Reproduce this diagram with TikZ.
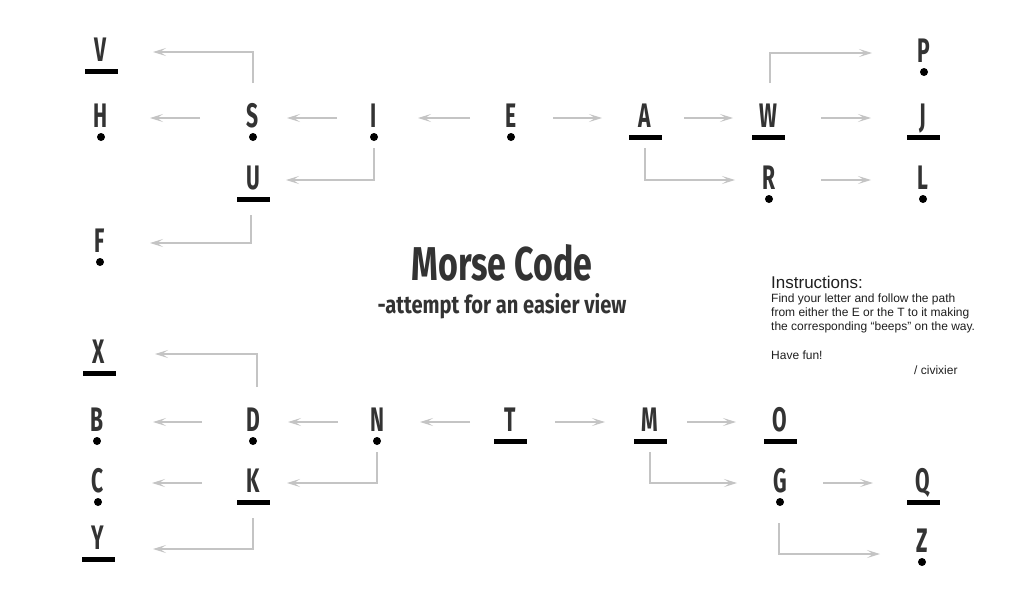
\documentclass[tikz,border=0pt]{standalone}
\usepackage{fontspec}
\usetikzlibrary{arrows.meta,calc}
\setmainfont{Liberation Sans}
\newfontfamily\condfont[FakeStretch=0.62]{Fira Sans}
\definecolor{ink}{HTML}{333333}
\definecolor{wire}{HTML}{C4C4C4}
\tikzset{
  lt/.style={inner sep=0pt, text height=20pt, text depth=2pt, text=ink,
    font=\condfont\bfseries\fontsize{34}{34}\selectfont},
  arr/.style={draw=wire, line width=1.4pt,
    -{Stealth[length=13pt,width=8pt,inset=6pt]}},
  ins/.style={inner sep=0pt, anchor=base west, text=black!88,
    font=\fontsize{12}{14}\selectfont},
}
\newcommand{\dotm}[1]{\fill[black] ($(#1.center)+(0,19)$) circle (4pt);}
\newcommand{\barm}[1]{\fill[black] ($(#1.center)+(-16.5,17)$) rectangle ++(33,5);}
\begin{document}
\begin{tikzpicture}[x=1pt,y=-1pt]
\useasboundingbox[fill=white] (0,0) rectangle (1024,600);
% ---- letters: top tree (E)
\node[lt] (V) at (101,52) {V};
\node[lt] (P) at (924,53) {P};
\node[lt] (H) at (101,118) {H};
\node[lt] (S) at (253,118) {S};
\node[lt] (I) at (374,118) {I};
\node[lt] (E) at (511,118) {E};
\node[lt] (A) at (645,118) {A};
\node[lt] (W) at (768,118) {W};
\node[lt] (J) at (923,118) {J};
\node[lt] (U) at (253,180) {U};
\node[lt] (R) at (769,180) {R};
\node[lt] (L) at (923,180) {L};
\node[lt] (F) at (100,243) {F};
% ---- letters: bottom tree (T)
\node[lt] (X) at (99,354) {X};
\node[lt] (B) at (97,422) {B};
\node[lt] (D) at (253,422) {D};
\node[lt] (N) at (377,422) {N};
\node[lt] (T) at (510,422) {T};
\node[lt] (M) at (650,422) {M};
\node[lt] (O) at (780,422) {O};
\node[lt] (C) at (98,483) {C};
\node[lt] (K) at (253,483) {K};
\node[lt] (G) at (780,483) {G};
\node[lt] (Q) at (923,483) {Q};
\node[lt] (Y) at (98,540) {Y};
\node[lt] (Z) at (922,543) {Z};
% ---- marks
\barm{V}\dotm{P}
\dotm{H}\dotm{S}\dotm{I}\dotm{E}\barm{A}\barm{W}\barm{J}
\barm{U}\dotm{R}\dotm{L}\dotm{F}
\barm{X}\dotm{B}\dotm{D}\dotm{N}\barm{T}\barm{M}\barm{O}
\dotm{C}\barm{K}\dotm{G}\barm{Q}\barm{Y}\dotm{Z}
% ---- connectors: top tree
\draw[arr, shorten <=35pt, shorten >=52pt] (S.center) |- (V.center);
\draw[arr, shorten <=53pt, shorten >=49pt] (S.center) -- (H.center);
\draw[arr, shorten <=37pt, shorten >=34pt] (I.center) -- (S.center);
\draw[arr, shorten <=30pt, shorten >=33pt] (I.center) |- (U.center);
\draw[arr, shorten <=35pt, shorten >=50pt] ([xshift=-2pt]U.center) |- (F.center);
\draw[arr, shorten <=41pt, shorten >=44pt] (E.center) -- (I.center);
\draw[arr, shorten <=42pt, shorten >=43pt] (E.center) -- (A.center);
\draw[arr, shorten <=39pt, shorten >=35pt] (A.center) -- (W.center);
\draw[arr, shorten <=30pt, shorten >=34pt] (A.center) |- (R.center);
\draw[arr, shorten <=35pt, shorten >=52pt] ([xshift=2pt]W.center) |- (P.center);
\draw[arr, shorten <=53pt, shorten >=52pt] (W.center) -- (J.center);
\draw[arr, shorten <=52pt, shorten >=52pt] (R.center) -- (L.center);
% ---- connectors: bottom tree
\draw[arr, shorten <=35pt, shorten >=56pt] ([xshift=4pt]D.center) |- (X.center);
\draw[arr, shorten <=51pt, shorten >=56pt] (D.center) -- (B.center);
\draw[arr, shorten <=39pt, shorten >=35pt] (N.center) -- (D.center);
\draw[arr, shorten <=30pt, shorten >=34pt] (N.center) |- (K.center);
\draw[arr, shorten <=51pt, shorten >=54pt] (K.center) -- (C.center);
\draw[arr, shorten <=35pt, shorten >=55pt] (K.center) |- ($(Y.center)+(0,9)$);
\draw[arr, shorten <=40pt, shorten >=43pt] (T.center) -- (N.center);
\draw[arr, shorten <=45pt, shorten >=45pt] (T.center) -- (M.center);
\draw[arr, shorten <=37pt, shorten >=44pt] (M.center) -- (O.center);
\draw[arr, shorten <=30pt, shorten >=43pt] (M.center) |- (G.center);
\draw[arr, shorten <=43pt, shorten >=50pt] (G.center) -- (Q.center);
\draw[arr, shorten <=40pt, shorten >=42pt] ([xshift=-1pt]G.center) |- ($(Z.center)+(0,11)$);
% ---- title
\node[inner sep=0pt, anchor=base, text=ink] (title) at (502,280)
  {\resizebox{181pt}{36pt}{\condfont\bfseries Morse Code}};
\node[inner sep=0pt, anchor=base, text=ink] (sub) at (502,313)
  {\resizebox{249pt}{20pt}{\condfont\bfseries -attempt for an easier view}};
% ---- instructions
\node[ins, font=\fontsize{17}{20}\selectfont] (ih) at (771,288) {Instructions:};
\node[ins] (i1) at (771,302.7) {Find your letter and follow the path};
\node[ins] (i2) at (771,316.5) {from either the E or the T to it making};
\node[ins] (i3) at (771,330.2) {the corresponding “beeps” on the way.};
\node[ins] (i4) at (771,359.3) {Have fun!};
\node[ins] (i5) at (914,374.3) {/ civixier};
\end{tikzpicture}
\end{document}
